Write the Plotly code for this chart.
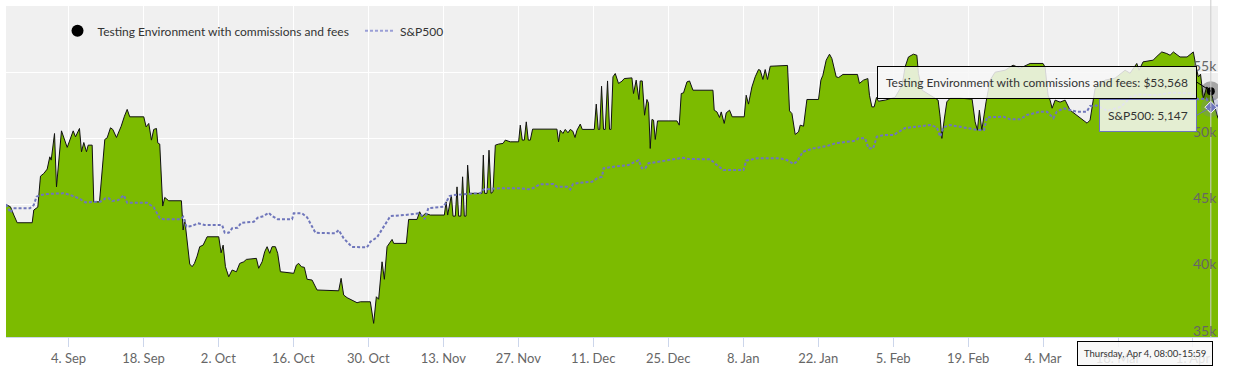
import pandas as pd
import plotly.graph_objects as go

START = "2023-08-23"

# Strategy equity (days since START, value in $)
gr_days = [0.33, 1.17, 1.79, 2.42, 5.22, 5.52, 6.27, 6.77, 7.39, 8.02,
           8.51, 8.77, 9.39, 9.76, 10.69, 11.76, 12.88, 13.31, 14.05, 14.43,
           14.86, 15.36, 15.68, 16.42, 16.72, 17.79, 18.78, 19.22, 19.84, 20.27,
           20.96, 21.84, 22.45, 22.96, 23.44, 26.06, 26.50, 26.99, 27.49, 27.92,
           28.43, 28.67, 29.04, 29.60, 29.98, 30.72, 33.09, 33.41, 33.71, 34.16,
           34.64, 35.09, 35.52, 36.02, 36.51, 37.14, 37.89, 40.06, 40.50, 40.88,
           41.31, 41.92, 42.56, 43.36, 43.98, 44.72, 45.23, 47.09, 47.52, 48.16,
           48.64, 49.09, 49.58, 50.02, 50.64, 51.07, 51.57, 54.06, 54.56, 54.99,
           55.49, 56.05, 56.56, 57.49, 58.42, 62.46, 62.91, 63.39, 64.03, 65.89,
           66.51, 68.37, 68.99, 69.49, 69.92, 70.56, 70.99, 71.49, 72.43, 72.73,
           75.09, 75.52, 77.09, 77.58, 78.03, 78.64, 79.57, 82.19, 82.51, 82.81,
           83.50, 83.81, 84.24, 84.56, 84.86, 85.27, 85.60, 85.92, 86.24, 86.54,
           86.91, 89.23, 89.47, 89.71, 90.16, 90.53, 90.91, 91.28, 91.71, 92.33,
           93.15, 93.57, 94.51, 96.06, 96.37, 96.75, 97.12, 97.49, 97.87, 98.24,
           98.67, 103.22, 103.52, 103.84, 104.34, 104.77, 105.28, 105.71, 106.17, 106.59,
           106.96, 107.57, 107.95, 110.19, 110.56, 110.93, 111.21, 111.55, 111.92, 112.24,
           112.67, 113.04, 113.32, 113.68, 114.11, 114.72, 115.36, 115.79, 117.22, 117.52,
           118.02, 118.53, 118.77, 119.15, 119.58, 120.02, 120.32, 120.64, 120.96, 121.26,
           121.58, 122.00, 125.63, 126.06, 126.43, 126.86, 127.50, 127.98, 128.62, 132.35,
           132.59, 133.10, 133.58, 133.90, 134.46, 134.83, 135.45, 135.95, 138.19, 138.56,
           138.99, 139.63, 140.24, 140.86, 141.18, 141.68, 142.11, 142.54, 143.05, 146.28,
           146.65, 147.10, 147.71, 148.33, 148.65, 149.27, 149.90, 152.07, 152.51, 152.88,
           153.50, 154.12, 154.56, 155.37, 155.83, 156.62, 159.34, 159.71, 160.46, 161.28,
           161.58, 162.03, 162.46, 162.89, 163.26, 164.51, 166.38, 167.68, 168.24, 168.86,
           169.79, 170.43, 170.73, 171.42, 172.91, 174.40, 174.78, 175.10, 175.53, 176.03,
           176.65, 178.51, 180.75, 181.31, 181.74, 182.11, 182.56, 182.99, 183.36, 184.11,
           185.04, 186.91, 188.40, 189.71, 191.58, 194.00, 194.38, 194.94, 195.31, 195.69,
           196.25, 197.18, 198.12, 199.05, 200.92, 202.22, 202.78, 203.72, 205.58, 207.45,
           209.32, 210.25, 211.50, 211.93, 212.68, 214.55, 215.48, 216.17, 217.10, 217.72,
           218.34, 219.58, 220.89, 221.45, 222.06, 222.57, 223.00, 223.41, 223.93, 224.57,
           225.33, 226.00, 226.67]
gr_vals = [45010, 44830, 44210, 43630, 43630, 44590, 44810, 47150, 47350, 47680,
           48610, 48360, 50370, 46340, 50570, 49320, 50570, 50120, 50750, 48990,
           49690, 48990, 49490, 49490, 45210, 45210, 49920, 50040, 50800, 50680,
           50070, 50920, 51680, 52190, 51630, 51630, 50870, 51130, 49870, 50680,
           50750, 49660, 49570, 44890, 45540, 45290, 45290, 43080, 43880, 42320,
           40510, 40310, 40560, 41110, 41820, 41940, 42570, 42570, 41360, 41940,
           40310, 39550, 40060, 39930, 40560, 40680, 40860, 40940, 40190, 40680,
           41440, 41820, 41320, 41820, 41820, 41320, 39930, 39810, 40430, 40560,
           40310, 40260, 39360, 39300, 38550, 38490, 39430, 38170, 37970, 37590,
           37660, 37660, 36030, 38040, 37850, 40680, 39360, 41820, 42370, 42070,
           42070, 43880, 43880, 44460, 44080, 44340, 44210, 44210, 45210, 44210,
           45720, 44130, 44130, 46340, 44130, 44130, 47100, 44130, 44130, 47980,
           45850, 45850, 48740, 45850, 45850, 49110, 45850, 45970, 49490, 49570,
           49620, 49870, 49740, 49740, 51000, 49870, 49870, 51250, 49870, 49870,
           50700, 50700, 49740, 50620, 50370, 50680, 50420, 50680, 50550, 50070,
           50620, 51080, 50680, 50680, 52590, 50680, 50680, 53940, 50680, 50680,
           54340, 50680, 50680, 54650, 54900, 54150, 54320, 54520, 54570, 53390,
           54400, 52940, 54340, 54340, 51750, 52940, 52660, 49240, 51430, 51380,
           49920, 51320, 51320, 51000, 53390, 53440, 54270, 54340, 53640, 53640,
           52130, 52000, 51580, 52000, 51130, 51930, 52130, 51630, 51630, 53260,
           52590, 53890, 54650, 55200, 55150, 54450, 55200, 54450, 55450, 55510,
           52080, 51880, 50300, 50490, 51000, 50920, 52940, 52940, 54400, 54770,
           55910, 56360, 56030, 54650, 54600, 54830, 54830, 54150, 54400, 54520,
           53260, 52380, 52380, 53090, 52810, 52890, 53110, 54020, 55400, 56150,
           56360, 56280, 54900, 53640, 53260, 52890, 51630, 50000, 51380, 52760,
           53040, 53040, 52960, 51250, 50620, 52130, 50620, 51980, 52760, 54400,
           55000, 55150, 55530, 55300, 55660, 55660, 55380, 53260, 52890, 52280,
           52890, 52740, 52890, 52130, 51530, 51150, 51380, 53790, 54400, 54550,
           55150, 54920, 55660, 55150, 55780, 55910, 56280, 56530, 56410, 56280,
           56530, 56150, 56150, 56360, 56530, 55400, 54650, 54850, 53020, 53890,
           53568, 52510, 51510]

# S&P500 index
sp_days = [0.33, 1.17, 1.68, 4.78, 5.52, 6.03, 6.77, 8.02, 11.12, 12.37,
           13.92, 15.17, 17.97, 18.91, 19.52, 20.16, 21.33, 22.32, 22.96, 26.69,
           27.92, 29.04, 29.79, 32.91, 33.41, 34.03, 35.09, 36.14, 37.39, 40.69,
           41.18, 41.92, 42.56, 43.60, 44.24, 46.59, 47.34, 48.46, 49.39, 50.02,
           51.07, 53.76, 54.06, 55.62, 56.56, 58.11, 61.84, 62.46, 63.39, 64.96,
           67.76, 68.37, 69.62, 70.86, 72.11, 74.91, 77.39, 77.89, 78.55, 79.20,
           82.06, 83.18, 83.93, 86.43, 88.91, 89.53, 92.64, 96.38, 97.93, 98.80,
           99.98, 102.59, 103.22, 105.09, 105.71, 106.21, 107.58, 109.76, 110.69, 111.63,
           111.93, 113.79, 116.59, 117.22, 118.46, 119.09, 119.71, 120.33, 123.76, 126.86,
           127.74, 131.85, 133.10, 134.33, 138.06, 138.56, 140.56, 144.91, 146.16, 147.39,
           148.03, 149.15, 151.13, 153.63, 155.18, 158.91, 159.53, 160.78, 161.39, 162.27,
           162.96, 164.19, 166.06, 166.99, 168.24, 172.91, 174.16, 174.78, 175.40, 176.65,
           179.13, 181.93, 182.99, 183.50, 186.60, 187.85, 189.72, 190.97, 193.44, 194.75,
           195.93, 196.56, 197.79, 200.29, 202.16, 202.78, 204.00, 206.00, 208.50, 210.50,
           212.00, 215.00, 218.00, 221.50, 223.00, 224.50, 225.33, 226.67]
sp_vals = [4432, 4370, 4402, 4402, 4427, 4488, 4500, 4508, 4513, 4500,
           4476, 4446, 4451, 4476, 4476, 4456, 4463, 4500, 4443, 4443,
           4410, 4329, 4321, 4321, 4340, 4267, 4272, 4292, 4279, 4279,
           4222, 4222, 4255, 4259, 4296, 4303, 4333, 4345, 4370, 4345,
           4321, 4321, 4365, 4365, 4336, 4222, 4218, 4242, 4181, 4117,
           4115, 4156, 4188, 4267, 4345, 4353, 4365, 4353, 4323, 4404,
           4414, 4493, 4500, 4508, 4513, 4542, 4550, 4550, 4542, 4552,
           4579, 4581, 4561, 4561, 4542, 4581, 4591, 4598, 4623, 4635,
           4697, 4709, 4721, 4734, 4758, 4697, 4697, 4734, 4758, 4775,
           4766, 4763, 4721, 4684, 4684, 4753, 4771, 4771, 4758, 4729,
           4746, 4819, 4844, 4861, 4881, 4900, 4918, 4918, 4844, 4844,
           4930, 4942, 4942, 4967, 4994, 5016, 4999, 4930, 4999, 5016,
           4999, 4979, 4979, 5073, 5077, 5058, 5058, 5090, 5114, 5114,
           5066, 5114, 5139, 5114, 5114, 5156, 5160, 5120, 5150, 5225,
           5241, 5235, 5254, 5250, 5205, 5211, 5147, 5160]

HOVER_DAY = 225.33
y_ticks = [35000, 40000, 45000, 50000, 55000, 60000]
y_labels = ["35k", "40k", "45k", "50k", "55k", ""]

assert len(gr_days) == len(gr_vals)
assert len(sp_days) == len(sp_vals)

start = pd.Timestamp(START)
def to_dates(days):
    return [(start + pd.Timedelta(days=d)).round("min") for d in days]

gr_dates = to_dates(gr_days)
sp_dates = to_dates(sp_days)
gi = gr_days.index(HOVER_DAY)
si = sp_days.index(HOVER_DAY)
hover_ts = gr_dates[gi].round("h")

GREEN = "#7cbb00"
SPC = "#6f76bb"
FONT = "Lato, sans-serif"

fig = go.Figure()
fig.add_trace(go.Scatter(x=gr_dates, y=gr_vals, mode="lines", fill="tozeroy",
                         fillcolor=GREEN, line=dict(color="#111", width=1),
                         showlegend=False, hoverinfo="skip"))
fig.add_trace(go.Scatter(x=sp_dates, y=sp_vals, yaxis="y2", mode="lines",
                         line=dict(color=SPC, width=2, dash="3px,2px"),
                         name="S&P500", showlegend=False, hoverinfo="skip"))
# legend entries
fig.add_trace(go.Scatter(x=[None], y=[None], mode="markers",
                         marker=dict(color="black", size=12),
                         name="Testing Environment with commissions and fees\u00a0\u00a0"))
fig.add_trace(go.Scatter(x=[None], y=[None], mode="lines",
                         line=dict(color="#9a9fd6", width=2, dash="3px,2px"),
                         name="S&P500"))
# hover markers
fig.add_trace(go.Scatter(x=[gr_dates[gi]], y=[gr_vals[gi]], mode="markers",
                         marker=dict(color="rgba(0,0,0,0.3)", size=20),
                         showlegend=False, hoverinfo="skip"))
fig.add_trace(go.Scatter(x=[gr_dates[gi]], y=[gr_vals[gi]], mode="markers",
                         marker=dict(color="black", size=8),
                         showlegend=False, hoverinfo="skip"))
fig.add_trace(go.Scatter(x=[sp_dates[si]], y=[sp_vals[si]], yaxis="y2", mode="markers",
                         marker=dict(color="rgba(111,118,187,0.25)", size=20),
                         showlegend=False, hoverinfo="skip"))
fig.add_trace(go.Scatter(x=[sp_dates[si]], y=[sp_vals[si]], yaxis="y2", mode="markers",
                         marker=dict(color=SPC, size=9, symbol="diamond",
                                     line=dict(color="white", width=1)),
                         showlegend=False, hoverinfo="skip"))

end_label = (hover_ts + pd.Timedelta(hours=8) - pd.Timedelta(minutes=1))
date_text = f"{hover_ts:%A, %b} {hover_ts.day}, {hover_ts:%H:%M}-{end_label:%H:%M}"

# y-axis labels (drawn inside the plot, right-aligned, above their gridline)
annotations = [
    dict(x=1, xref="paper", y=v, yref="y", text=t, showarrow=False,
         xanchor="right", yanchor="middle", yshift=7, borderpad=0,
         font=dict(family=FONT, size=14, color="#666"))
    for v, t in zip(y_ticks, y_labels) if t
]
annotations += [
    dict(x=gr_dates[gi], y=gr_vals[gi], xref="x", yref="y",
         text=f"Testing Environment with commissions and fees: ${gr_vals[gi]:,}",
         showarrow=True, arrowhead=0, arrowwidth=1, arrowcolor="black",
         ax=-14, ay=-9, xanchor="right", yanchor="middle",
         bgcolor="rgba(247,247,247,0.85)", bordercolor="black", borderwidth=1,
         borderpad=8, font=dict(family=FONT, size=12, color="#333")),
    dict(x=sp_dates[si], y=sp_vals[si], xref="x", yref="y2",
         text=f"S&P500: {sp_vals[si]:,}",
         showarrow=True, arrowhead=0, arrowwidth=1, arrowcolor=SPC,
         ax=-14, ay=8, xanchor="right", yanchor="middle",
         bgcolor="rgba(247,247,247,0.85)", bordercolor=SPC, borderwidth=1,
         borderpad=8, font=dict(family=FONT, size=12, color="#333")),
    dict(x=gr_dates[gi], y=0, xref="x", yref="paper", text=date_text,
         showarrow=False, xanchor="right", yanchor="top", xshift=2, yshift=-4,
         bgcolor="rgba(247,247,247,0.85)", bordercolor="black", borderwidth=1,
         borderpad=6, font=dict(family=FONT, size=9.5, color="#333")),
]

fig.update_layout(
    width=1237, height=383,
    margin=dict(l=6, r=19, t=6, b=46),
    paper_bgcolor="white", plot_bgcolor="#f0f0f0",
    font=dict(family=FONT, color="#333"),
    showlegend=True,
    legend=dict(orientation="h", x=0.0425, y=0.925, xanchor="left", yanchor="middle",
                bgcolor="rgba(0,0,0,0)", font=dict(family=FONT, size=12, color="#333")),
    xaxis=dict(type="date", range=[gr_dates[0], gr_dates[-1]],
               tick0="2023-09-04", dtick=14 * 86400000, tickformat="%-d. %b",
               showgrid=True, gridcolor="white", gridwidth=1,
               ticks="outside", ticklen=9, tickcolor="#ccd6eb",
               showline=True, linecolor="#ccd6eb", linewidth=1,
               tickfont=dict(family=FONT, size=13, color="#666"), zeroline=False),
    yaxis=dict(range=[35000, 60000], tickvals=y_ticks, showticklabels=False,
               side="right", showgrid=True, gridcolor="white", gridwidth=1,
               zeroline=False),
    yaxis2=dict(range=[3454, 5893], overlaying="y", visible=False),
    shapes=[dict(type="line", xref="x", yref="paper", x0=gr_dates[gi], x1=gr_dates[gi],
                 y0=0, y1=1.02, line=dict(color="#cccccc", width=1), layer="above")],
    annotations=annotations,
)

fig.write_html("out.html", config={"displayModeBar": False},
               post_script="document.body.style.margin='0';")
